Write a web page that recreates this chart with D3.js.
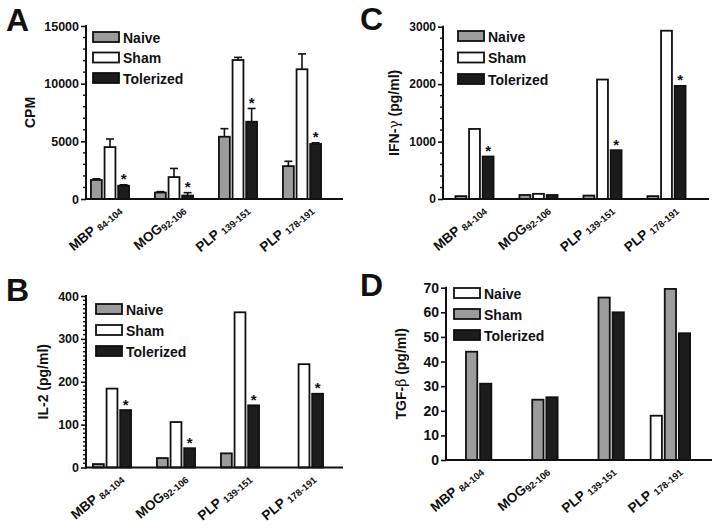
<!DOCTYPE html>
<html>
<head>
<meta charset="utf-8">
<script src="https://cdn.jsdelivr.net/npm/d3@7"></script>
<style>
  html, body { margin: 0; padding: 0; background: #fff; }
  svg text { font-family: "Liberation Sans", Arial, sans-serif; font-weight: bold; fill: #111; }
</style>
</head>
<body>
<svg id="chart" width="722" height="532"></svg>
<script>
// ---------- data ----------
const catMain = ["MBP", "MOG", "PLP", "PLP"];
const catSub = ["84-104", "92-106", "139-151", "178-191"];
const catGap = [" ", "", " ", " "];
const groups = ["Naive", "Sham", "Tolerized"];

// Panel A: proliferation (CPM)
const cpmNaive = [1650, 560, 5400, 2850];
const cpmNaiveErr = [100, 80, 700, 420];
const cpmSham = [4500, 1900, 12050, 11250];
const cpmShamErr = [700, 750, 230, 1330];
const cpmTol = [1150, 300, 6700, 4770];
const cpmTolErr = [80, 250, 1150, 100];
const cpmSig = [true, true, true, true];
const cpmTicks = [0, 5000, 10000, 15000];

// Panel B: IL-2 (pg/ml)
const il2Naive = [8, 22, 33, 0];
const il2Sham = [184, 106, 362, 241];
const il2Tol = [134, 45, 145, 172];
const il2Sig = [true, true, true, true];
const il2Ticks = [0, 100, 200, 300, 400];

// Panel C: IFN-gamma (pg/ml)
const ifnNaive = [50, 70, 60, 50];
const ifnSham = [1220, 90, 2080, 2930];
const ifnTol = [740, 70, 850, 1970];
const ifnSig = [true, false, true, true];
const ifnTicks = [0, 1000, 2000, 3000];

// Panel D: TGF-beta (pg/ml)
const tgfNaive = [0, 0, 0, 18];
const tgfSham = [44, 24.5, 66, 69.5];
const tgfTol = [31, 25.5, 60, 51.5];
const tgfTicks = [0, 10, 20, 30, 40, 50, 60, 70];

// ---------- drawing ----------
const GRAY = "#9c9c9c", WHITE = "#ffffff", BLACK = "#1c1c1c";
const svg = d3.select("#chart");

function panel(cfg) {
  const g = svg.append("g");
  const y = d3.scaleLinear().domain(cfg.domain).range([cfg.y0, cfg.yTop]);
  const x0 = d3.scaleBand().domain(d3.range(catMain.length)).range(cfg.bandRange);
  const x1 = d3.scaleBand().domain(groups).range([0, x0.bandwidth()])
      .paddingInner(cfg.pi).paddingOuter(cfg.po);

  // bars, error bars, significance marks
  catMain.forEach((c, i) => {
    groups.forEach((grp, k) => {
      const v = cfg.values[k][i];
      if (v <= 0) return;
      const bx = x0(i) + x1(grp);
      g.append("rect")
        .attr("x", bx).attr("width", x1.bandwidth())
        .attr("y", y(v)).attr("height", y(0) - y(v))
        .attr("fill", cfg.colors[k]).attr("stroke", "#111").attr("stroke-width", 1.8);
      let top = y(v);
      if (cfg.errors) {
        const e = cfg.errors[k][i];
        const cx = bx + x1.bandwidth() / 2;
        top = y(v + e);
        g.append("line").attr("x1", cx).attr("x2", cx).attr("y1", y(v)).attr("y2", top)
          .attr("stroke", "#111").attr("stroke-width", 1.6);
        g.append("line").attr("x1", cx - 4).attr("x2", cx + 4).attr("y1", top).attr("y2", top)
          .attr("stroke", "#111").attr("stroke-width", 1.6);
      }
      if (cfg.sig && k === 2 && cfg.sig[i]) {
        g.append("text").attr("x", bx + x1.bandwidth() / 2).attr("y", top - 0.5)
          .attr("text-anchor", "middle").attr("font-size", 15).text("*");
      }
    });
  });

  // y axis with major and minor ticks
  const yAxis = d3.axisLeft(y).tickValues(cfg.ticks).tickSize(5).tickPadding(2).tickFormat(d3.format("d"));
  const ya = g.append("g").attr("transform", `translate(${cfg.axisX},0)`).call(yAxis);
  ya.select(".domain").remove();
  ya.selectAll("line").attr("stroke", "#111").attr("stroke-width", 1.6);
  ya.selectAll("text").attr("font-size", cfg.tickFont).attr("font-family", null).attr("fill", "#111");
  if (cfg.minor) {
    const minors = d3.range(cfg.domain[0], cfg.domain[1] + 1e-9, cfg.minor).filter(v => cfg.ticks.indexOf(v) < 0);
    g.selectAll(null).data(minors).enter().append("line")
      .attr("x1", cfg.axisX - 3).attr("x2", cfg.axisX).attr("y1", d => y(d)).attr("y2", d => y(d))
      .attr("stroke", "#111").attr("stroke-width", 1.4);
  }
  g.append("line").attr("x1", cfg.axisX).attr("x2", cfg.axisX).attr("y1", cfg.yTop - 1).attr("y2", cfg.y0 + 1)
    .attr("stroke", "#111").attr("stroke-width", 2);
  g.append("line").attr("x1", cfg.axisX).attr("x2", cfg.xEnd).attr("y1", cfg.y0).attr("y2", cfg.y0)
    .attr("stroke", "#111").attr("stroke-width", 2);

  // y label
  const yl = g.append("g")
    .attr("transform", `translate(${cfg.ylabX},${(cfg.y0 + cfg.yTop) / 2}) rotate(-90)`)
    .append("text")
    .attr("text-anchor", "middle").attr("font-size", 14).attr("dy", "0.35em");
  cfg.ylabel.forEach(p => {
    const t = yl.append("tspan").text(p.t);
    if (p.font) t.attr("font-family", p.font).attr("font-weight", "normal");
  });

  // x category labels, slanted
  catMain.forEach((c, i) => {
    const cx = x0(i) + x0.bandwidth() / 2;
    const ax = cx + 12, ay = cfg.y0 + 12;
    const t = g.append("text")
      .attr("x", ax).attr("y", ay)
      .attr("transform", `rotate(-40,${ax},${ay})`)
      .attr("text-anchor", "end").attr("font-size", 13.5);
    t.append("tspan").text(c + catGap[i]);
    t.append("tspan").attr("font-size", 9.5).attr("dy", 2).text(catSub[i]);
  });

  // legend
  groups.forEach((grp, k) => {
    const ly = cfg.legY + k * cfg.legStep;
    g.append("rect").attr("x", cfg.legX).attr("y", ly).attr("width", 26).attr("height", 10)
      .attr("fill", cfg.colors[k]).attr("stroke", "#111").attr("stroke-width", 1.8);
    g.append("text").attr("x", cfg.legX + 30).attr("y", ly + 10.5).attr("font-size", 14).text(grp);
  });

  // panel letter
  svg.append("text").attr("x", cfg.letterX).attr("y", cfg.letterY)
    .attr("font-size", 32).text(cfg.letter);
}

panel({
  letter: "A", letterX: 6, letterY: 31,
  domain: [0, 15000], ticks: cpmTicks, minor: 1000, tickFont: 12.5,
  axisX: 86, yTop: 26, y0: 199, xEnd: 343, bandRange: [78, 334], pi: 0.2, po: 0.95,
  values: [cpmNaive, cpmSham, cpmTol], errors: [cpmNaiveErr, cpmShamErr, cpmTolErr], sig: cpmSig,
  colors: [GRAY, WHITE, BLACK],
  ylabel: [{t: "CPM"}], ylabX: 30,
  legX: 93, legY: 32, legStep: 20.5
});
panel({
  letter: "B", letterX: 6, letterY: 301,
  domain: [0, 400], ticks: il2Ticks, minor: 10, tickFont: 12.5,
  axisX: 86, yTop: 296, y0: 467.5, xEnd: 343, bandRange: [80, 336], pi: 0.2, po: 0.95,
  values: [il2Naive, il2Sham, il2Tol], sig: il2Sig,
  colors: [GRAY, WHITE, BLACK],
  ylabel: [{t: "IL-2 (pg/ml)"}], ylabX: 43,
  legX: 96, legY: 304, legStep: 21
});
panel({
  letter: "C", letterX: 360, letterY: 30,
  domain: [0, 3000], ticks: ifnTicks, minor: 200, tickFont: 12,
  axisX: 443, yTop: 26.7, y0: 199, xEnd: 709, bandRange: [442.5, 698.5], pi: 0.2, po: 0.95,
  values: [ifnNaive, ifnSham, ifnTol], sig: ifnSig,
  colors: [GRAY, WHITE, BLACK],
  ylabel: [{t: "IFN-"}, {t: "γ", font: "DejaVu Serif"}, {t: " (pg/ml)"}], ylabX: 394,
  legX: 458, legY: 31, legStep: 21.5
});
panel({
  letter: "D", letterX: 360, letterY: 296,
  domain: [0, 70], ticks: tgfTicks, minor: null, tickFont: 14,
  axisX: 446, yTop: 287.7, y0: 460, xEnd: 712, bandRange: [438.5, 703.5], pi: 0.2, po: 0.95,
  values: [tgfNaive, tgfSham, tgfTol],
  colors: [WHITE, GRAY, BLACK],
  ylabel: [{t: "TGF-"}, {t: "β", font: "DejaVu Serif"}, {t: " (pg/ml)"}], ylabX: 401,
  legX: 454, legY: 288, legStep: 21
});
</script>
</body>
</html>
